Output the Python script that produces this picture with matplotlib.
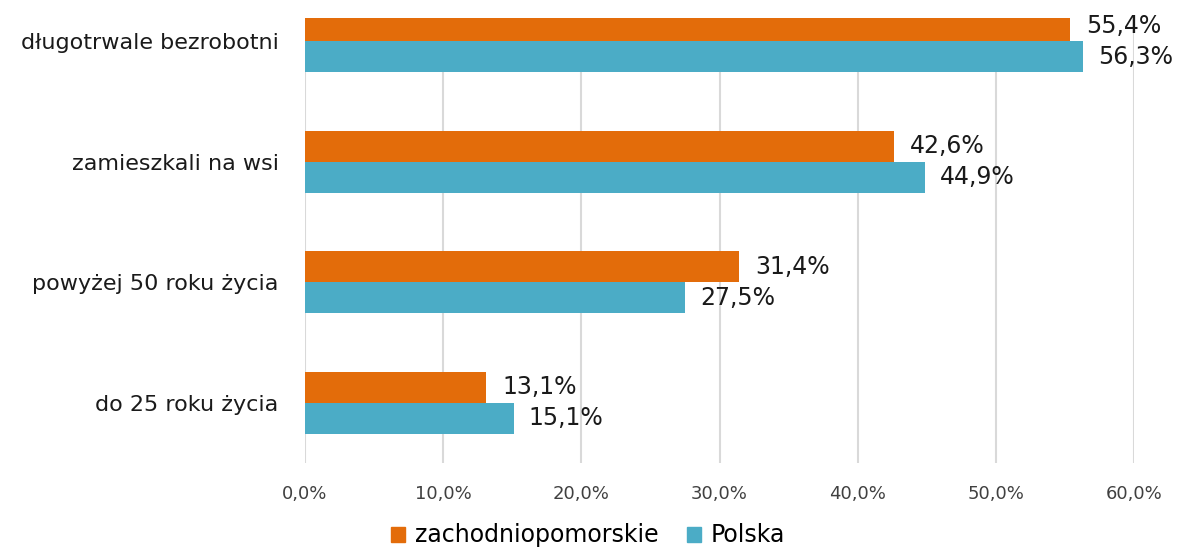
import matplotlib.pyplot as plt
import matplotlib as mpl
from matplotlib.patches import Patch

mpl.rcParams['font.family'] = ['DejaVu Sans']

# dane (od góry do dołu)
kategorie = ['długotrwale bezrobotni', 'zamieszkali na wsi', 'powyżej 50 roku życia', 'do 25 roku życia']
zachodniopomorskie = [55.4, 42.6, 31.4, 13.1]
polska = [56.3, 44.9, 27.5, 15.1]
ticki = [0, 10, 20, 30, 40, 50, 60]

kol_zp = '#E36C0A'
kol_pl = '#4BACC6'

W, H = 1183, 552
fig = plt.figure(figsize=(W / 100, H / 100), dpi=100)
ax = fig.add_axes([305 / W, (H - 463) / H, (1134 - 305) / W, (463 - 18) / H])

n = len(kategorie)
y = [n - 1 - i for i in range(n)]
h = 0.257
ax.barh([v + h / 2 for v in y], zachodniopomorskie, height=h, color=kol_zp, zorder=3)
ax.barh([v - h / 2 for v in y], polska, height=h, color=kol_pl, zorder=3)

def fmt(v):
    return f'{v:.1f}%'.replace('.', ',')

for yy, a, b in zip(y, zachodniopomorskie, polska):
    ax.annotate(fmt(a), (a, yy + h / 2), xytext=(16, 0), textcoords='offset pixels',
                va='center', ha='left', fontsize=17, color='#1a1a1a')
    ax.annotate(fmt(b), (b, yy - h / 2), xytext=(15, 0), textcoords='offset pixels',
                va='center', ha='left', fontsize=17, color='#1a1a1a')

ax.set_xlim(0, 60)
ax.set_ylim(-0.5, n - 0.5 - 37 / 120.7)
ax.set_xticks(ticks=ticki, labels=[f'{t:.1f}%'.replace('.', ',') for t in ticki])
ax.set_yticks(y, kategorie)
ax.tick_params(axis='x', length=0, pad=16, labelsize=13, labelcolor='#404040')
ax.tick_params(axis='y', length=0, pad=19, labelsize=16, labelcolor='#1a1a1a')
ax.grid(axis='x', color='#D9D9D9', linewidth=1.5, zorder=0)
for s in ax.spines.values():
    s.set_visible(False)

uchwyty = [Patch(color=kol_zp), Patch(color=kol_pl)]
fig.legend(uchwyty, ['zachodniopomorskie', 'Polska'], loc='center', bbox_to_anchor=(0.497, 0.030),
           ncol=2, frameon=False, fontsize=17, handlelength=0.6, handleheight=0.6,
           handletextpad=0.4, columnspacing=1.2, borderpad=0.1)

fig.savefig('out.png', dpi=100)
